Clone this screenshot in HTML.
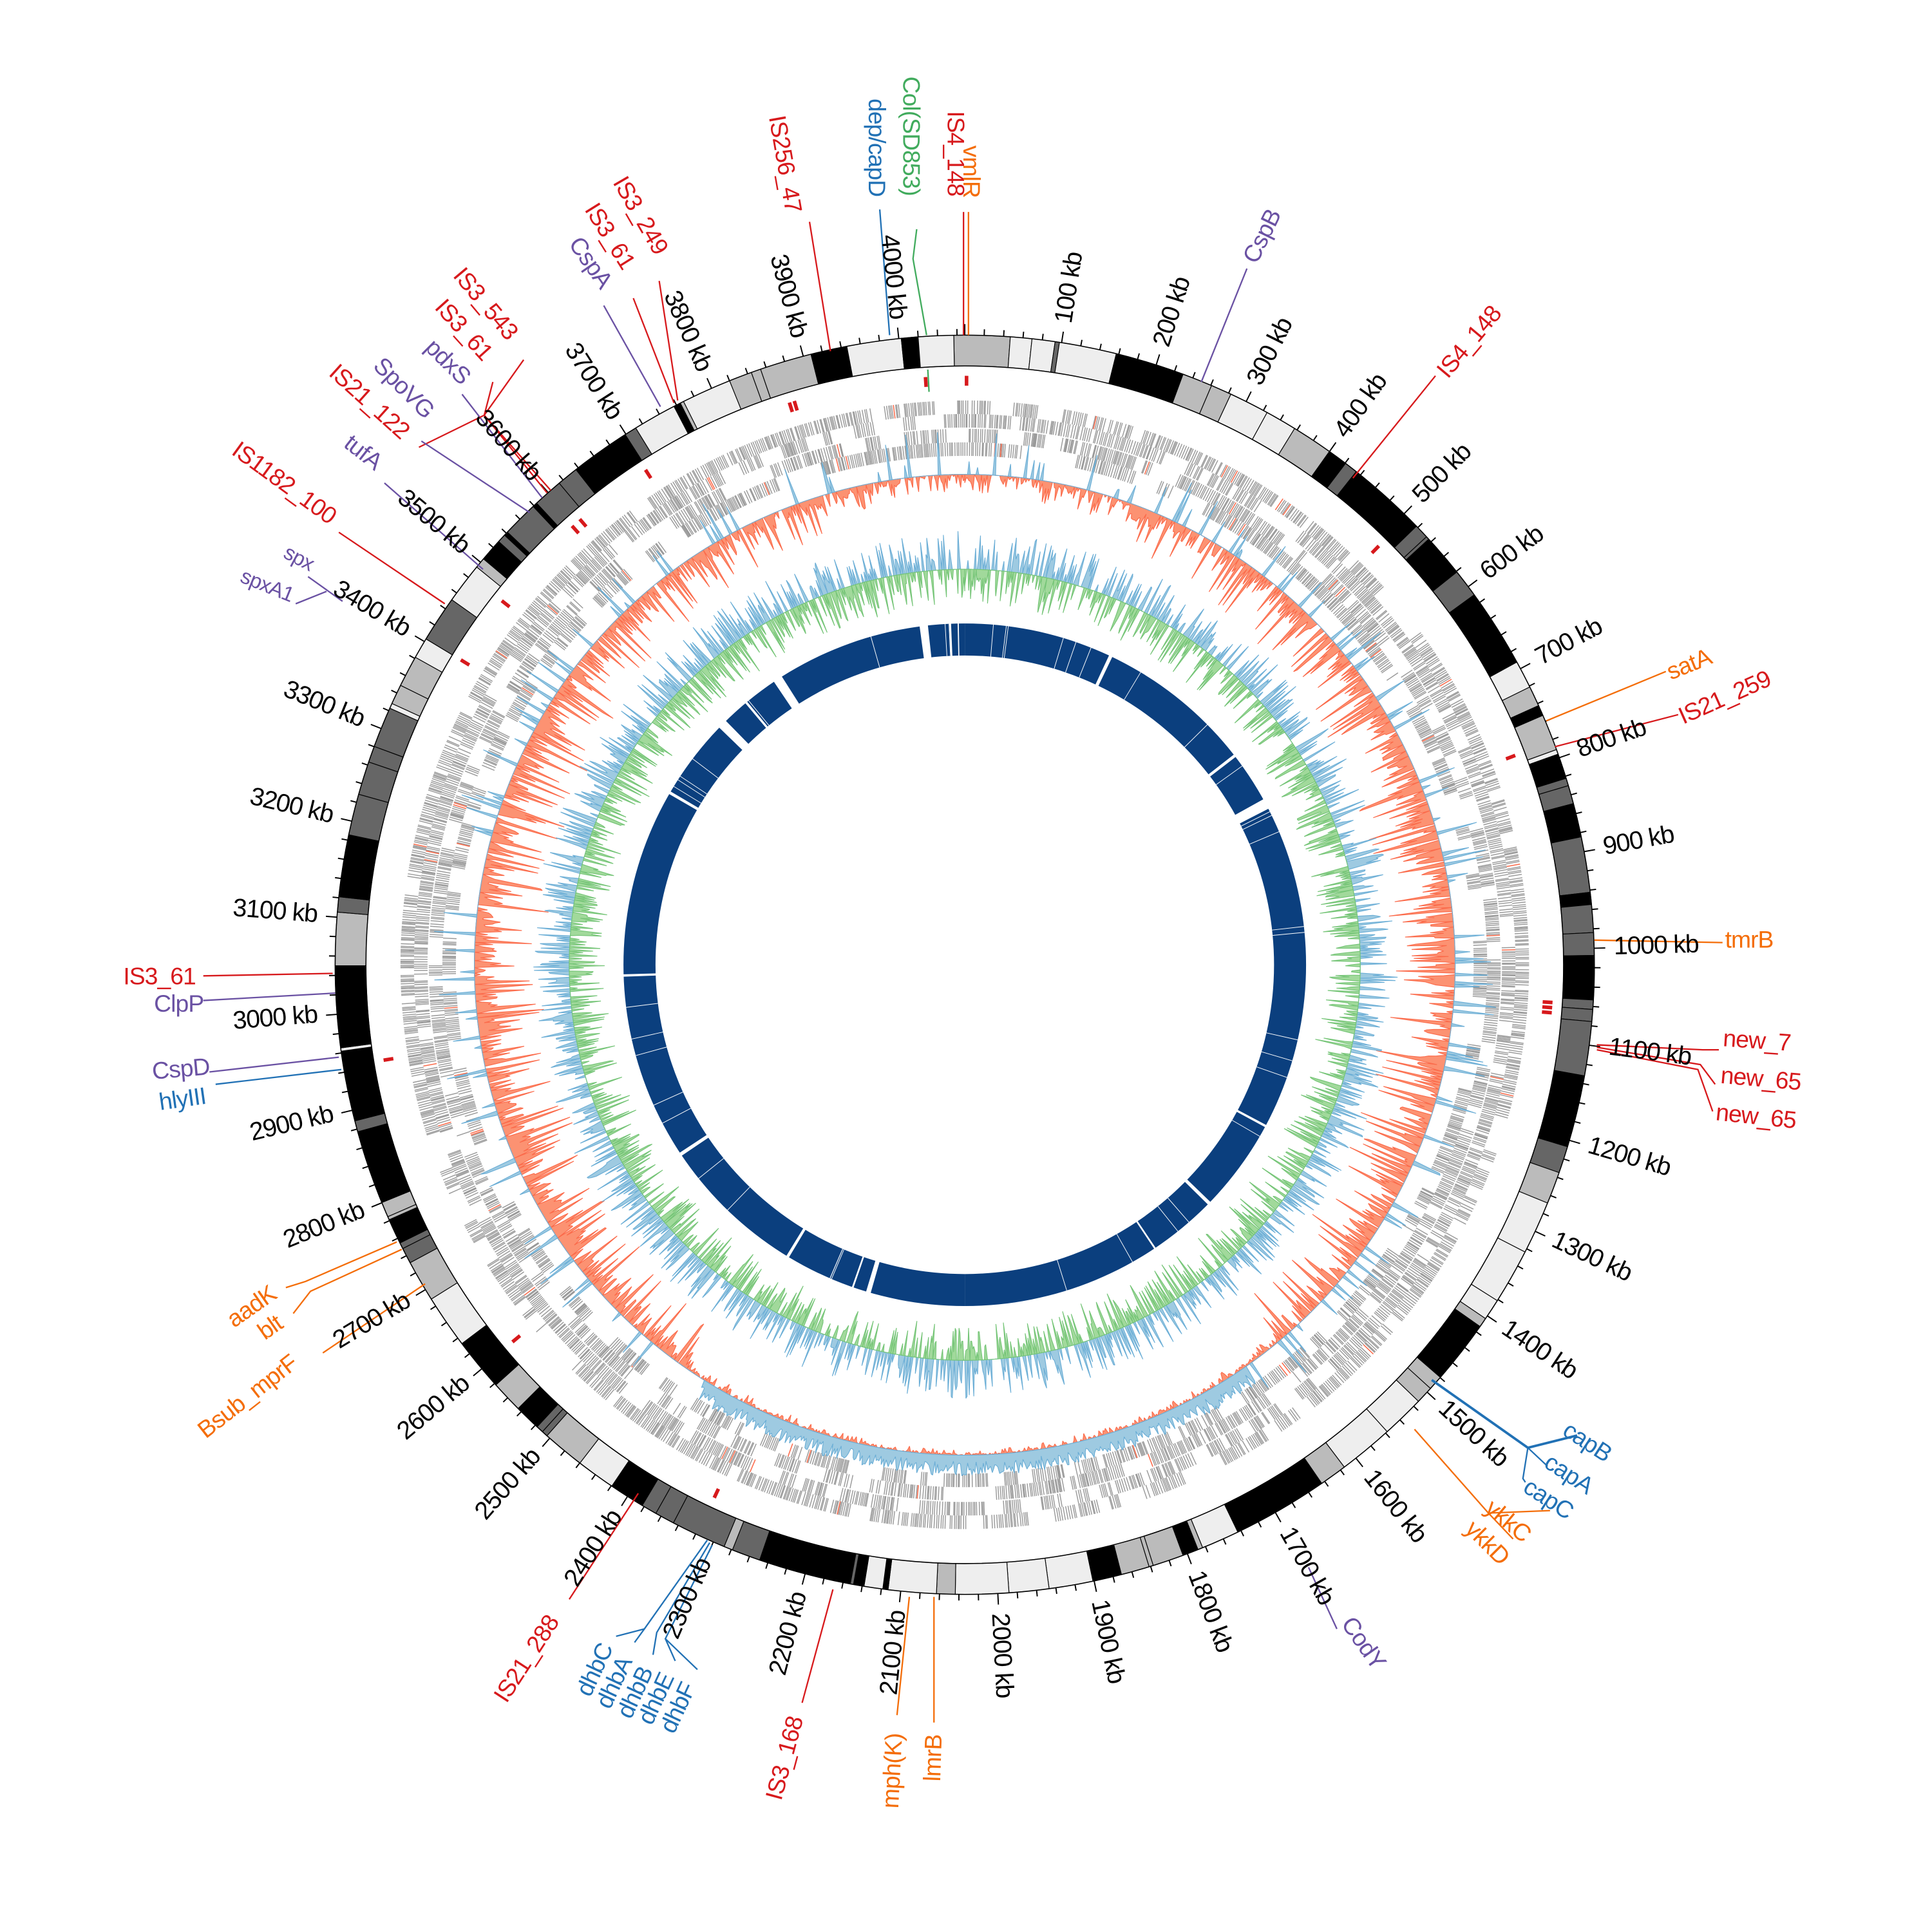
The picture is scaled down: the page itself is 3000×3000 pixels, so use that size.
<!DOCTYPE html>
<html><head><meta charset="utf-8"><style>
html,body{margin:0;padding:0;background:#fff;}
svg{display:block;}
text{font-family:"Liberation Sans",sans-serif;}
.t{font-size:20.5px;fill:#000;letter-spacing:-0.6px;}
.g{font-size:19.5px;letter-spacing:-0.5px;}
.r{fill:#d7191c}.o{fill:#f46d08}.p{fill:#6a51a3}.b{fill:#2171b5}.gr{fill:#41ab5d}
</style></head><body>
<svg id="s" width="3000" height="3000" viewBox="0 0 1568 1568" xmlns="http://www.w3.org/2000/svg">
<g id="tracks"></g>
<g id="lines" fill="none" stroke-width="1.2">
<polyline points="782,272 782,172" stroke="#d7191c"/>
<polyline points="786,272 786,172" stroke="#f46d08"/>
<polyline points="744,186 741,210 752,272" stroke="#41ab5d"/>
<polyline points="753,300 754,318" stroke="#41ab5d"/>
<polyline points="714,170 722,272" stroke="#2171b5"/>
<polyline points="657,180 674,285" stroke="#d7191c"/>
<polyline points="535,228 550,325" stroke="#d7191c"/>
<polyline points="514,242 547,327" stroke="#d7191c"/>
<polyline points="490,248 536,330" stroke="#6a51a3"/>
<polyline points="425,292 393,337 447,398" stroke="#d7191c"/>
<polyline points="400,310 393,337 444,400" stroke="#d7191c"/>
<polyline points="375,320 440,404" stroke="#6a51a3"/>
<polyline points="340,363 393,337" stroke="#d7191c"/>
<polyline points="342,358 430,416" stroke="#6a51a3"/>
<polyline points="312,392 392,462" stroke="#6a51a3"/>
<polyline points="275,432 361,490" stroke="#d7191c"/>
<polyline points="250,468 278,488" stroke="#6a51a3"/>
<polyline points="240,490 265,480" stroke="#6a51a3"/>
<polyline points="165,792 270,790" stroke="#d7191c"/>
<polyline points="165,812 272,806" stroke="#6a51a3"/>
<polyline points="170,870 275,858" stroke="#6a51a3"/>
<polyline points="175,880 277,868" stroke="#2171b5"/>
<polyline points="232,1045 248,1040 322,1008" stroke="#f46d08"/>
<polyline points="238,1066 252,1048 326,1014" stroke="#f46d08"/>
<polyline points="262,1098 345,1042" stroke="#f46d08"/>
<polyline points="462,1298 518,1212" stroke="#d7191c"/>
<polyline points="500,1328 523,1322 574,1250" stroke="#2171b5"/>
<polyline points="515,1333 523,1322" stroke="#2171b5"/>
<polyline points="530,1343 533,1325 576,1252" stroke="#2171b5"/>
<polyline points="548,1348 540,1330" stroke="#2171b5"/>
<polyline points="566,1355 540,1330 578,1254" stroke="#2171b5"/>
<polyline points="651,1382 676,1290" stroke="#d7191c"/>
<polyline points="728,1392 738,1296" stroke="#f46d08"/>
<polyline points="758,1398 758,1296" stroke="#f46d08"/>
<polyline points="1085,1322 1062,1272" stroke="#6a51a3"/>
<polyline points="1208,1228 1258,1226" stroke="#f46d08"/>
<polyline points="1208,1228 1148,1160" stroke="#f46d08"/>
<polyline points="1208,1228 1228,1249" stroke="#f46d08"/>
<polyline points="1162,1120 1240,1175 1280,1165" stroke="#2171b5" stroke-width="2"/>
<polyline points="1240,1175 1256,1190" stroke="#2171b5"/>
<polyline points="1240,1175 1236,1200 1238,1203" stroke="#2171b5"/>
<polyline points="1165,305 1098,388" stroke="#d7191c"/>
<polyline points="1012,218 975,310" stroke="#6a51a3"/>
<polyline points="1352,545 1255,585" stroke="#f46d08"/>
<polyline points="1362,580 1262,606" stroke="#d7191c"/>
<polyline points="1398,765 1294,763" stroke="#f46d08"/>
<polyline points="1395,852 1382,852 1296,848" stroke="#d7191c"/>
<polyline points="1392,880 1380,864 1296,850" stroke="#d7191c"/>
<polyline points="1390,902 1378,868 1296,852" stroke="#d7191c"/>
</g>
<g id="ticklabels">
<text class="t" transform="rotate(8.85 783 783) translate(783 256) rotate(-90)" dominant-baseline="middle">100 kb</text>
<text class="t" transform="rotate(17.70 783 783) translate(783 256) rotate(-90)" dominant-baseline="middle">200 kb</text>
<text class="t" transform="rotate(26.55 783 783) translate(783 256) rotate(-90)" dominant-baseline="middle">300 kb</text>
<text class="t" transform="rotate(35.40 783 783) translate(783 256) rotate(-90)" dominant-baseline="middle">400 kb</text>
<text class="t" transform="rotate(44.25 783 783) translate(783 256) rotate(-90)" dominant-baseline="middle">500 kb</text>
<text class="t" transform="rotate(53.10 783 783) translate(783 256) rotate(-90)" dominant-baseline="middle">600 kb</text>
<text class="t" transform="rotate(61.95 783 783) translate(783 256) rotate(-90)" dominant-baseline="middle">700 kb</text>
<text class="t" transform="rotate(70.80 783 783) translate(783 256) rotate(-90)" dominant-baseline="middle">800 kb</text>
<text class="t" transform="rotate(79.65 783 783) translate(783 256) rotate(-90)" dominant-baseline="middle">900 kb</text>
<text class="t" transform="rotate(88.50 783 783) translate(783 256) rotate(-90)" dominant-baseline="middle">1000 kb</text>
<text class="t" transform="rotate(97.35 783 783) translate(783 256) rotate(-90)" dominant-baseline="middle">1100 kb</text>
<text class="t" transform="rotate(106.2 783 783) translate(783 256) rotate(-90)" dominant-baseline="middle">1200 kb</text>
<text class="t" transform="rotate(115.05 783 783) translate(783 256) rotate(-90)" dominant-baseline="middle">1300 kb</text>
<text class="t" transform="rotate(123.9 783 783) translate(783 256) rotate(-90)" dominant-baseline="middle">1400 kb</text>
<text class="t" transform="rotate(132.75 783 783) translate(783 256) rotate(-90)" dominant-baseline="middle">1500 kb</text>
<text class="t" transform="rotate(141.6 783 783) translate(783 256) rotate(-90)" dominant-baseline="middle">1600 kb</text>
<text class="t" transform="rotate(150.45 783 783) translate(783 256) rotate(-90)" dominant-baseline="middle">1700 kb</text>
<text class="t" transform="rotate(159.3 783 783) translate(783 256) rotate(-90)" dominant-baseline="middle">1800 kb</text>
<text class="t" transform="rotate(168.15 783 783) translate(783 256) rotate(-90)" dominant-baseline="middle">1900 kb</text>
<text class="t" transform="rotate(177.0 783 783) translate(783 256) rotate(-90)" dominant-baseline="middle">2000 kb</text>
<text class="t" transform="rotate(185.85 783 783) translate(783 256) rotate(90)" dominant-baseline="middle" text-anchor="end">2100 kb</text>
<text class="t" transform="rotate(194.7 783 783) translate(783 256) rotate(90)" dominant-baseline="middle" text-anchor="end">2200 kb</text>
<text class="t" transform="rotate(203.55 783 783) translate(783 256) rotate(90)" dominant-baseline="middle" text-anchor="end">2300 kb</text>
<text class="t" transform="rotate(212.4 783 783) translate(783 256) rotate(90)" dominant-baseline="middle" text-anchor="end">2400 kb</text>
<text class="t" transform="rotate(221.25 783 783) translate(783 256) rotate(90)" dominant-baseline="middle" text-anchor="end">2500 kb</text>
<text class="t" transform="rotate(230.1 783 783) translate(783 256) rotate(90)" dominant-baseline="middle" text-anchor="end">2600 kb</text>
<text class="t" transform="rotate(238.95 783 783) translate(783 256) rotate(90)" dominant-baseline="middle" text-anchor="end">2700 kb</text>
<text class="t" transform="rotate(247.8 783 783) translate(783 256) rotate(90)" dominant-baseline="middle" text-anchor="end">2800 kb</text>
<text class="t" transform="rotate(256.65 783 783) translate(783 256) rotate(90)" dominant-baseline="middle" text-anchor="end">2900 kb</text>
<text class="t" transform="rotate(265.5 783 783) translate(783 256) rotate(90)" dominant-baseline="middle" text-anchor="end">3000 kb</text>
<text class="t" transform="rotate(274.35 783 783) translate(783 256) rotate(90)" dominant-baseline="middle" text-anchor="end">3100 kb</text>
<text class="t" transform="rotate(283.2 783 783) translate(783 256) rotate(90)" dominant-baseline="middle" text-anchor="end">3200 kb</text>
<text class="t" transform="rotate(292.05 783 783) translate(783 256) rotate(90)" dominant-baseline="middle" text-anchor="end">3300 kb</text>
<text class="t" transform="rotate(300.9 783 783) translate(783 256) rotate(90)" dominant-baseline="middle" text-anchor="end">3400 kb</text>
<text class="t" transform="rotate(309.75 783 783) translate(783 256) rotate(90)" dominant-baseline="middle" text-anchor="end">3500 kb</text>
<text class="t" transform="rotate(318.6 783 783) translate(783 256) rotate(90)" dominant-baseline="middle" text-anchor="end">3600 kb</text>
<text class="t" transform="rotate(327.45 783 783) translate(783 256) rotate(90)" dominant-baseline="middle" text-anchor="end">3700 kb</text>
<text class="t" transform="rotate(336.3 783 783) translate(783 256) rotate(90)" dominant-baseline="middle" text-anchor="end">3800 kb</text>
<text class="t" transform="rotate(345.15 783 783) translate(783 256) rotate(90)" dominant-baseline="middle" text-anchor="end">3900 kb</text>
<text class="t" transform="rotate(354.0 783 783) translate(783 256) rotate(90)" dominant-baseline="middle" text-anchor="end">4000 kb</text>
</g>
<g id="genelabels">
<text class="g r" transform="translate(769 90) rotate(90)">IS4_148</text>
<text class="g o" transform="translate(782 118) rotate(90)">vmlR</text>
<text class="g gr" transform="translate(733 62) rotate(90)">Col(SD853)</text>
<text class="g b" transform="translate(705 80) rotate(90)">dep/capD</text>
<text class="g r" transform="translate(624 95) rotate(80)">IS256_47</text>
<text class="g r" transform="translate(497 148) rotate(60)">IS3_249</text>
<text class="g r" transform="translate(474 170) rotate(58)">IS3_61</text>
<text class="g p" transform="translate(461 198) rotate(55)">CspA</text>
<text class="g r" transform="translate(367 224) rotate(50)">IS3_543</text>
<text class="g r" transform="translate(352 250) rotate(48)">IS3_61</text>
<text class="g p" transform="translate(344 283) rotate(45)">pdxS</text>
<text class="g p" transform="translate(302 298) rotate(45)">SpoVG</text>
<text class="g r" transform="translate(266 304) rotate(42)">IS21_122</text>
<text class="g p" transform="translate(278 362) rotate(38)">tufA</text>
<text class="g r" transform="translate(187 368) rotate(36)">IS1182_100</text>
<text class="g p" transform="translate(229 452) rotate(28)" style="font-size:17px">spx</text>
<text class="g p" transform="translate(194 472) rotate(22)" style="font-size:17px">spxA1</text>
<text class="g r" transform="translate(100 799)">IS3_61</text>
<text class="g p" transform="translate(125 821)">ClpP</text>
<text class="g p" transform="translate(124 876) rotate(-5)">CspD</text>
<text class="g b" transform="translate(130 901) rotate(-8)">hlyIII</text>
<text class="g o" transform="translate(190 1078) rotate(-35)">aadK</text>
<text class="g o" transform="translate(215 1088) rotate(-35)">blt</text>
<text class="g o" transform="translate(167 1168) rotate(-38)">Bsub_mprF</text>
<text class="g r" transform="translate(411 1383) rotate(-57)">IS21_288</text>
<text class="g b" transform="translate(479 1378) rotate(-65)">dhbC</text>
<text class="g b" transform="translate(495 1388) rotate(-65)">dhbA</text>
<text class="g b" transform="translate(512 1396) rotate(-65)">dhbB</text>
<text class="g b" transform="translate(529 1401) rotate(-65)">dhbE</text>
<text class="g b" transform="translate(547 1408) rotate(-65)">dhbF</text>
<text class="g r" transform="translate(634 1462) rotate(-75)">IS3_168</text>
<text class="g o" transform="translate(729 1468) rotate(-87)">mph(K)</text>
<text class="g o" transform="translate(763 1446) rotate(-88)">lmrB</text>
<text class="g p" transform="translate(1088 1318) rotate(55)">CodY</text>
<text class="g o" transform="translate(1204 1226) rotate(40)">ykkC</text>
<text class="g o" transform="translate(1188 1242) rotate(45)">ykkD</text>
<text class="g b" transform="translate(1267 1164) rotate(33)">capB</text>
<text class="g b" transform="translate(1252 1190) rotate(33)">capA</text>
<text class="g b" transform="translate(1235 1210) rotate(33)">capC</text>
<text class="g r" transform="translate(1175 308) rotate(-50)">IS4_148</text>
<text class="g p" transform="translate(1020 215) rotate(-64)">CspB</text>
<text class="g o" transform="translate(1356 552) rotate(-22)">satA</text>
<text class="g r" transform="translate(1366 588) rotate(-24)">IS21_259</text>
<text class="g o" transform="translate(1400 769)">tmrB</text>
<text class="g r" transform="translate(1398 849) rotate(4)">new_7</text>
<text class="g r" transform="translate(1396 879) rotate(5)">new_65</text>
<text class="g r" transform="translate(1392 909) rotate(6)">new_65</text>
</g>
</svg>
<script>
(function(){
var C=783,NS="http://www.w3.org/2000/svg",T=document.getElementById("tracks");
var seed=12345;function rnd(){seed|=0;seed=seed+0x6D2B79F5|0;var t=Math.imul(seed^seed>>>15,1|seed);t=t+Math.imul(t^t>>>7,61|t)^t;return((t^t>>>14)>>>0)/4294967296;}
function P(r,a){a=a*Math.PI/180;return [(C+r*Math.sin(a)).toFixed(2),(C-r*Math.cos(a)).toFixed(2)];}
function sec(r1,r2,a1,a2){var p1=P(r2,a1),p2=P(r2,a2),p3=P(r1,a2),p4=P(r1,a1),l=(a2-a1)>180?1:0;
return "M"+p1+"A"+r2+","+r2+" 0 "+l+" 1 "+p2+"L"+p3+"A"+r1+","+r1+" 0 "+l+" 0 "+p4+"Z";}
function add(tag,at){var e=document.createElementNS(NS,tag);for(var k in at)e.setAttribute(k,at[k]);T.appendChild(e);return e;}
var a=-1,cols=["#000","#666","#bbb","#eee","#000","#bbb","#666","#eee","#000"];
while(a<359){var w=0.3+Math.pow(rnd(),1.5)*5;if(a+w>359)w=359-a;add("path",{d:sec(486,511,a,a+w),fill:cols[Math.floor(rnd()*cols.length)],stroke:"#000","stroke-width":0.6});a+=w;}
add("circle",{cx:C,cy:C,r:511,fill:"none",stroke:"#000","stroke-width":0.8});
add("circle",{cx:C,cy:C,r:486,fill:"none",stroke:"#000","stroke-width":0.8});
var d="";for(var k=0;k<=203;k++){var ang=k*20/4068*360;var len=(k%5==0)?9:5;var p=P(511,ang),q=P(511+len,ang);d+="M"+p+"L"+q;}
add("path",{d:d,stroke:"#000","stroke-width":1,fill:"none"});
var ism=[0,-4,-17,-17.5,-33,-41,-42,-52,-59,44.5,69,93.5,94,94.5,230,205,260.5];
ism.forEach(function(x){add("path",{d:sec(470,478,x,x+0.35),fill:"#d7191c"});});
var rows=[[447,458],[436,447],[424,435],[413,424]];
rows.forEach(function(rw,ri){var d="",dr="";var ang=0;var on=true,until=0;var pon=[0.85,0.8,0.7,0.6][ri];while(ang<360){ang+=0.1+rnd()*0.18;if(ang>until){on=rnd()<pon;until=ang+rnd()*3;}if(on&&rnd()<0.9){var p=P(rw[0],ang),q=P(rw[1],ang);if(rnd()<0.012)dr+="M"+p+"L"+q;else d+="M"+p+"L"+q;}}
add("path",{d:d,stroke:"#999","stroke-width":0.75,fill:"none"});add("path",{d:dr,stroke:"#fb6a4a","stroke-width":0.8,fill:"none"});});
function trackPoly(base,N,fn,sign,fill,stroke){var pts=[];for(var i=0;i<=N;i++){var an=i*360/N;var v=fn(an);pts.push(P(base+sign*v,an));}
var d="M"+pts.join("L");for(var i=N;i>=0;i--){d+="L"+P(base,i*360/N);}d+="Z";add("path",{d:d,fill:fill,stroke:stroke,"stroke-width":0.6,"stroke-linejoin":"bevel"});}
function redAmp(an){var w=0.35+0.65*Math.abs(Math.sin(an*Math.PI/180));if(an>140&&an<215)w*=0.2;if(an<20||an>345)w*=0.7;return w;}
trackPoly(398,2200,function(an){var u=rnd();if(u<0.3)return 0;return redAmp(an)*(u<0.8?(4+rnd()*18):(18+rnd()*40));},-1,"#fc9272","#fb6a4a");
trackPoly(398,2200,function(an){var u=rnd();var bot=(an>145&&an<212);if(bot)return 5+rnd()*12;if(u<0.9)return 0;return 5+rnd()*30;},1,"#9ecae1","#6baed6");
trackPoly(321,2400,function(an){var u=rnd();return u<0.55?0:u*u*u*30+1;},1,"#9ecae1","#6baed6");
trackPoly(321,2400,function(an){var u=rnd();return u<0.55?0:u*u*u*30+1;},-1,"#a1d99b","#74c476");
add("path",{d:sec(251,277,0,180),fill:"#0b3f7e"});add("path",{d:sec(251,277,180,359.999),fill:"#0b3f7e"});
var gaps=[[-7.6,1.4],[-2.6,0.3],[-1.2,0.2],[25,0.6],[52,0.5],[61,1.8],[118,0.4],[134,0.6],[146,0.3],[196,0.8],[199,0.3],[211,0.5],[236,0.6],[268,0.4],[300,0.5],[314,1.6],[320,0.4],[326,1.6]];
gaps.forEach(function(g){add("path",{d:sec(249,279,g[0],g[0]+g[1]),fill:"#fff"});});
var dl="";for(var i=0;i<40;i++){var an=rnd()*360;dl+="M"+P(251,an)+"L"+P(277,an);}add("path",{d:dl,stroke:"#fff","stroke-width":0.5,fill:"none"});
})();
</script>
</body></html>
